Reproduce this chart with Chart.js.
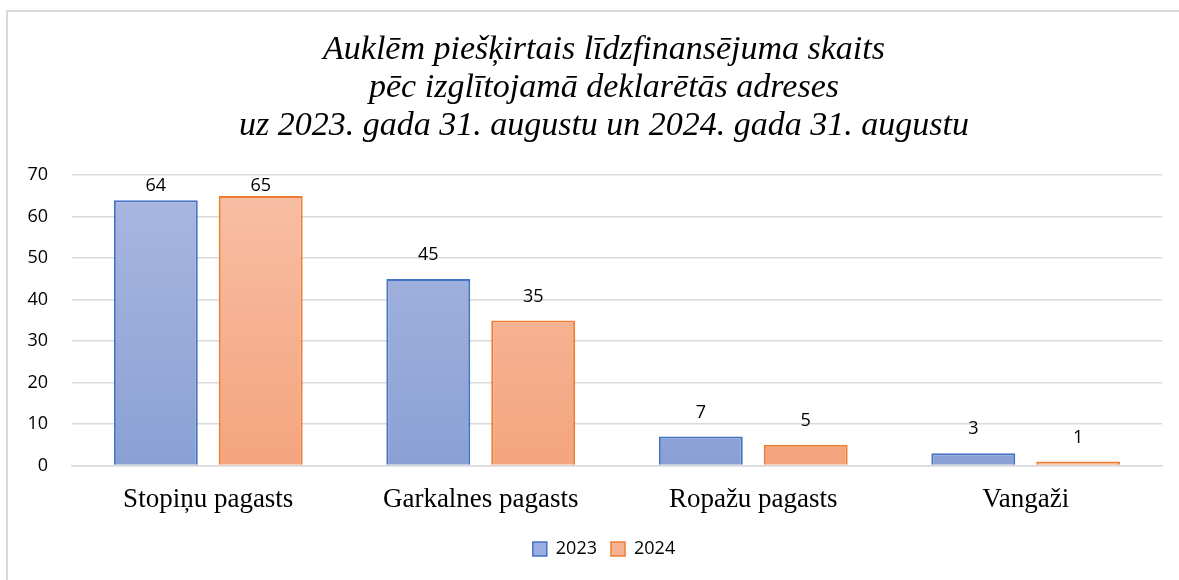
<!DOCTYPE html>
<html>
<head>
<meta charset="utf-8">
<script src="https://cdn.jsdelivr.net/npm/chart.js@4.4.1/dist/chart.umd.min.js"></script>
<style>
  html, body { margin: 0; padding: 0; background: #fff; overflow: hidden; }
  #clip { position: relative; width: 1179px; height: 580px; overflow: hidden; }
  #frame { position: absolute; left: 6px; top: 10px; width: 1194px; height: 570px;
           border-left: 2px solid #d9d9d9; border-top: 2px solid #d9d9d9; box-sizing: border-box; }
  #wrap { position: absolute; left: 0; top: 0; width: 1192px; height: 568px; }
</style>
</head>
<body>
<div id="clip"><div id="frame"><div id="wrap"><canvas id="c"></canvas></div></div></div>
<script>
const categories = ['Stopiņu pagasts', 'Garkalnes pagasts', 'Ropažu pagasts', 'Vangaži'];
const seriesNames = ['2023', '2024'];
const values2023 = [64, 45, 7, 3];
const values2024 = [65, 35, 5, 1];
const titleLines = [
  'Auklēm piešķirtais līdzfinansējuma skaits',
  'pēc izglītojamā deklarētās adreses',
  'uz 2023. gada 31. augustu un 2024. gada 31. augustu'
];

function grad(ctx, top, bottom) {
  const chart = ctx.chart;
  const area = chart.chartArea;
  if (!area) return bottom;
  const g = chart.ctx.createLinearGradient(0, area.top, 0, area.bottom);
  g.addColorStop(0, top);
  g.addColorStop(1, bottom);
  return g;
}

const labelPlugin = {
  id: 'barLabels',
  afterDatasetsDraw(chart) {
    const c = chart.ctx;
    const top = chart.chartArea.top;
    c.save();
    c.font = '18px "Open Sans"';
    c.fillStyle = '#000';
    c.textAlign = 'center';
    c.textBaseline = 'middle';
    chart.data.datasets.forEach((ds, di) => {
      const meta = chart.getDatasetMeta(di);
      meta.data.forEach((bar, i) => {
        const y = Math.max(bar.y - 24, top + 11);
        c.fillText(String(ds.data[i]), bar.x, y);
      });
    });
    c.restore();
  }
};

// Excel centres the title and legend on the whole chart frame, not the plot area.
const centerBlocks = {
  id: 'centerBlocks',
  afterLayout(chart) {
    const w = chart.width;
    [chart.titleBlock, chart.legend].forEach((b) => {
      if (!b) return;
      const bw = b.right - b.left;
      const nl = (w - bw) / 2;
      const dx = nl - b.left;
      b.left += dx; b.right += dx;
      if (b.legendHitBoxes) b.legendHitBoxes.forEach((h) => { h.left += dx; });
    });
  }
};

new Chart(document.getElementById('c'), {
  type: 'bar',
  data: {
    labels: categories,
    datasets: [
      {
        label: seriesNames[0],
        data: values2023,
        backgroundColor: (ctx) => grad(ctx, '#aab8e0', '#8aa0d5'),
        borderColor: '#4472c4',
        borderWidth: 2,
        borderSkipped: 'bottom'
      },
      {
        label: seriesNames[1],
        data: values2024,
        backgroundColor: (ctx) => grad(ctx, '#f8c0a6', '#f4a47e'),
        borderColor: '#ed7d31',
        borderWidth: 2,
        borderSkipped: 'bottom'
      }
    ]
  },
  options: {
    responsive: true,
    maintainAspectRatio: false,
    animation: false,
    datasets: { bar: { categoryPercentage: 0.77, barPercentage: 0.8 } },
    layout: { padding: { left: 19, right: 38, top: 19, bottom: 12 } },
    plugins: {
      title: {
        display: true,
        text: titleLines,
        color: '#000',
        font: { family: '"Liberation Serif"', style: 'italic', size: 34, weight: 'normal', lineHeight: 1.12 },
        padding: { top: 0, bottom: 30 }
      },
      legend: {
        position: 'bottom',
        labels: {
          color: '#000',
          font: { family: '"Open Sans"', size: 18 },
          boxWidth: 14,
          boxHeight: 14,
          padding: 14,
          generateLabels(chart) {
            const fills = ['#9aace0', '#f6b293'];
            return chart.data.datasets.map((ds, i) => ({
              text: ds.label,
              fillStyle: fills[i],
              strokeStyle: ds.borderColor,
              lineWidth: 1.5,
              datasetIndex: i,
              hidden: false,
              fontColor: '#000'
            }));
          }
        }
      },
      tooltip: { enabled: false }
    },
    scales: {
      x: {
        grid: { display: false, drawTicks: false },
        border: { display: true, color: '#d9d9d9', width: 1.5 },
        ticks: { color: '#000', font: { family: '"Liberation Serif"', size: 27 }, padding: 18 },
        afterFit(scale) { scale.height -= 8; }
      },
      y: {
        min: 0, max: 70,
        grid: { color: '#d9d9d9', lineWidth: 1.5, drawTicks: false },
        border: { display: false },
        ticks: { stepSize: 10, color: '#000', font: { family: '"Open Sans"', size: 18 }, padding: 24 },
        afterFit(scale) { scale.width = 45; }
      }
    }
  },
  plugins: [labelPlugin, centerBlocks]
});
</script>
</body>
</html>
